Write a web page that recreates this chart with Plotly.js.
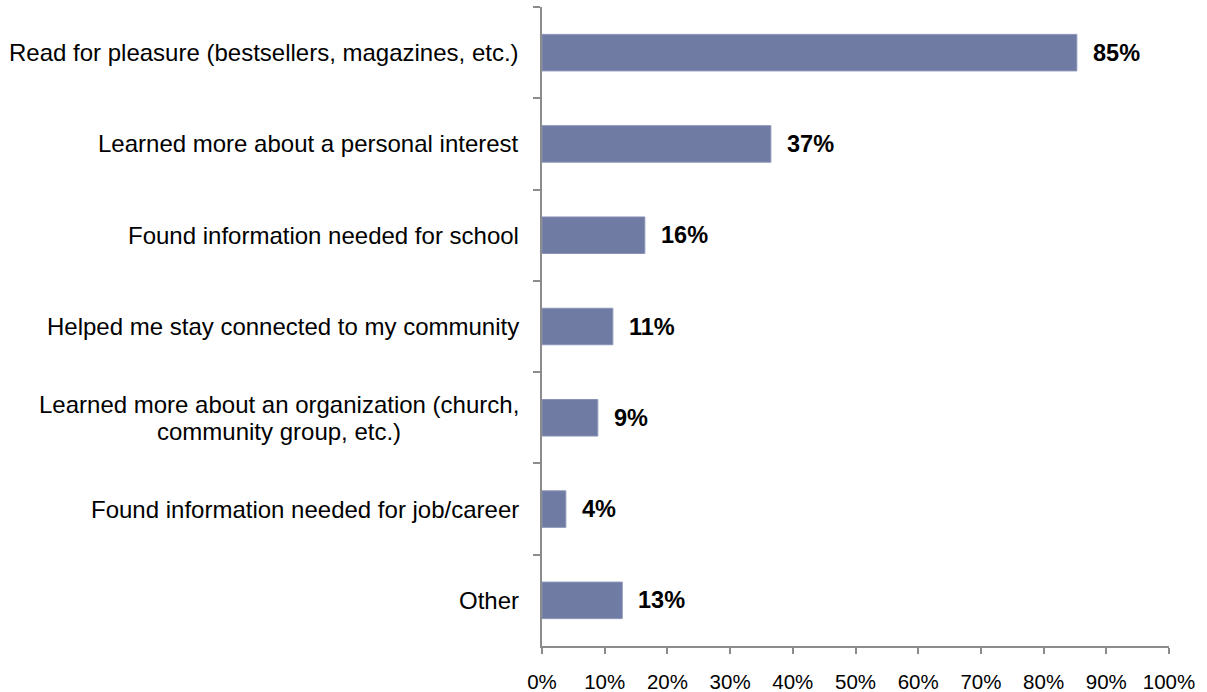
<!DOCTYPE html>
<html>
<head>
<meta charset="utf-8">
<script src="https://cdn.plot.ly/plotly-3.0.1.min.js"></script>
<style>html,body{margin:0;padding:0;background:#fff;}#chart{width:1207px;height:692px;}</style>
</head>
<body>
<div id="chart"></div>
<script>
const categories = [
  "Read for pleasure (bestsellers, magazines, etc.)",
  "Learned more about a personal interest",
  "Found information needed for school",
  "Helped me stay connected to my community",
  "Learned more about an organization (church,<br>community group, etc.)",
  "Found information needed for job/career",
  "Other"
];
const values = [85.3, 36.5, 16.4, 11.3, 8.9, 3.8, 12.8];
const valueLabels = ["85%", "37%", "16%", "11%", "9%", "4%", "13%"];
const xTickValues = [0,10,20,30,40,50,60,70,80,90,100];
const xTickLabels = ["0%","10%","20%","30%","40%","50%","60%","70%","80%","90%","100%"];

const font = "Arial, 'Liberation Sans', sans-serif";
const catSize = 24;
const lineGap = 27;

const ctx = document.createElement('canvas').getContext('2d');
ctx.font = catSize + "px Arial, 'Liberation Sans', sans-serif";

const trace = {
  type: 'bar',
  orientation: 'h',
  x: values,
  y: categories,
  width: 0.4,
  marker: {color: '#6f7ba2', line: {color: '#8a94b8', width: 1}},
  hoverinfo: 'none'
};

const annotations = [];
categories.forEach((c, i) => {
  const lines = c.split('<br>');
  const widths = lines.map(l => ctx.measureText(l).width);
  const maxW = Math.max(...widths);
  lines.forEach((l, k) => {
    const off = (k - (lines.length - 1) / 2) * lineGap;
    annotations.push({
      xref: 'paper', yref: 'y', x: 0, y: c, xanchor: 'center', yanchor: 'middle',
      xshift: -23 - maxW / 2, yshift: -off, text: l, showarrow: false, borderpad: 0,
      font: {family: font, size: catSize, color: '#000'}
    });
  });
  annotations.push({
    xref: 'x', yref: 'y', x: values[i], y: c, xanchor: 'left', yanchor: 'middle',
    xshift: 14, text: '<b>' + valueLabels[i] + '</b>', showarrow: false,
    font: {family: font, size: 23.5, color: '#000'}
  });
});

const layout = {
  width: 1207, height: 692,
  margin: {l: 542, r: 38, t: 7, b: 46, pad: 0},
  paper_bgcolor: '#fff', plot_bgcolor: '#fff',
  showlegend: false,
  bargap: 0.6,
  xaxis: {
    range: [0, 100], tickvals: xTickValues, ticktext: xTickLabels,
    showgrid: false, zeroline: false, showline: true, linecolor: '#8c8c8c', linewidth: 2,
    ticks: 'outside', ticklen: 6, tickwidth: 2, tickcolor: '#8c8c8c',
    tickfont: {family: font, size: 20.5, color: '#000'}, ticklabelstandoff: 10,
    fixedrange: true
  },
  yaxis: {
    autorange: 'reversed', showticklabels: false,
    showgrid: false, zeroline: false, showline: true, linecolor: '#8c8c8c', linewidth: 2,
    ticks: 'outside', tickson: 'boundaries', ticklen: 7, tickwidth: 2, tickcolor: '#8c8c8c',
    fixedrange: true
  },
  annotations: annotations
};

Plotly.newPlot('chart', [trace], layout, {displayModeBar: false, staticPlot: true});
</script>
</body>
</html>
